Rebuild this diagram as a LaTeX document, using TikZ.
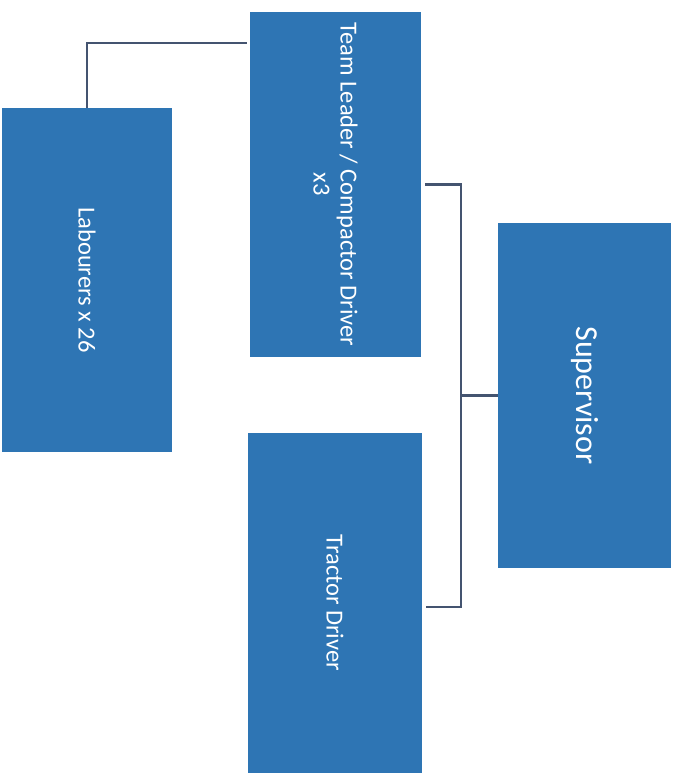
\documentclass[tikz,border=0pt]{standalone}
\usepackage{fontspec}
\setmainfont{Carlito}
\definecolor{boxblue}{RGB}{46,117,180}
\definecolor{linegray}{RGB}{68,84,112}
\begin{document}
\begin{tikzpicture}[x=1pt,y=1pt,
  orgbox/.style={draw=none,fill=boxblue,inner sep=0pt},
  orgtext/.style={text=white,rotate=-90,align=center,font=\fontsize{24.5}{27}\selectfont},
  conn/.style={draw=linegray,line width=2.4pt}]
\useasboundingbox (0,0) rectangle (678,773);
\node[orgbox,minimum width=171pt,minimum height=345pt] (tl) at (335.5,588.5) {};
\node[orgbox,minimum width=170pt,minimum height=344pt] (lab) at (87,493) {};
\node[orgbox,minimum width=173pt,minimum height=345pt] (sup) at (584.5,377.5) {};
\node[orgbox,minimum width=174pt,minimum height=340pt] (td) at (335,170) {};
\node[orgtext] (tltext) at (tl.center) {Team Leader / Compactor Driver\\x3};
\node[orgtext] (labtext) at (lab.center) {Labourers x 26};
\node[orgtext,font=\fontsize{32}{36}\selectfont] (suptext) at (sup.center) {Supervisor};
\node[orgtext] (tdtext) at (td.center) {Tractor Driver};
\coordinate (bus) at (461,378);
\draw[conn] (lab.north) |- ([xshift=-3pt,yshift=-31pt]tl.north west);
\draw[conn] ([xshift=4pt]tl.east) -| (bus) |- ([xshift=4pt,yshift=-4pt]td.east);
\draw[conn] (sup.west) -- (sup.west -| bus);
\end{tikzpicture}
\end{document}
